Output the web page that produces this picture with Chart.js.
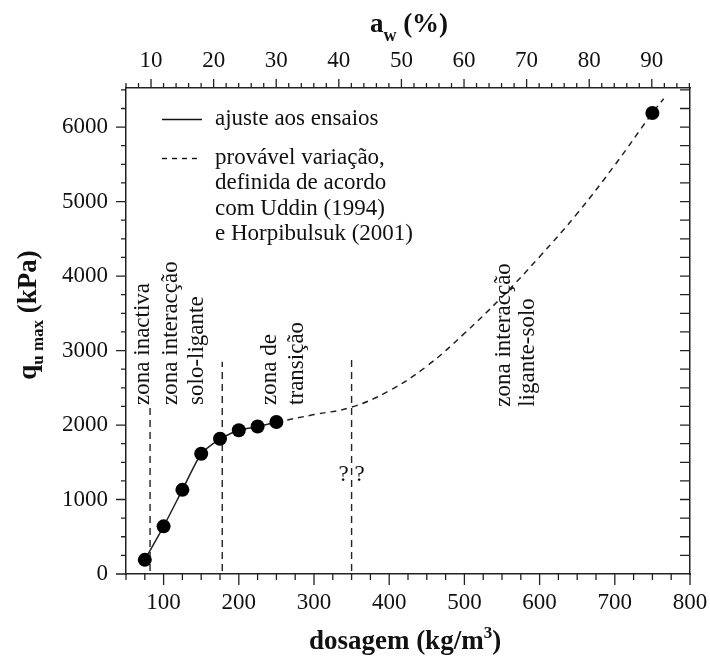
<!DOCTYPE html>
<html>
<head>
<meta charset="utf-8">
<title>qu max vs dosagem</title>
<script src="https://cdn.jsdelivr.net/npm/chart.js@4.4.0/dist/chart.umd.min.js"></script>
<style>
    html, body { margin: 0; padding: 0; background: #fff; }
    #wrap { width: 710px; height: 656px; }
</style>
</head>
<body>
<div id="wrap"><canvas id="quChart" width="710" height="656"></canvas></div>
<script>
// Ensaios: dosagem de ligante (kg/m3) e resistência máxima qu max (kPa)
const testDosage = [75, 100, 125, 150, 175, 200, 225, 250];
const testQu = [190, 640, 1130, 1615, 1815, 1930, 1980, 2040];

// Ponto isolado a dosagem elevada
const highDosage = [750];
const highQu = [6190];

// Provável variação (Uddin 1994, Horpibulsuk 2001)
const trendDosage = [250, 300, 350, 400, 450, 500, 550, 600, 650, 700, 750, 765];
const trendQu = [2040, 2140, 2240, 2460, 2790, 3230, 3720, 4260, 4840, 5490, 6190, 6380];

// Limites entre zonas (linhas verticais a tracejado)
const limitDosage = [82, 178, 350];
const limitTopQu = [2270, 2850, 2880];
const limitBaseQu = 40;

// Eixos
const dosageTicks = [100, 200, 300, 400, 500, 600, 700, 800];
const awTicks = [10, 20, 30, 40, 50, 60, 70, 80, 90];
const quTicks = [0, 1000, 2000, 3000, 4000, 5000, 6000];

const SERIF = "'Liberation Serif', 'Times New Roman', serif";
const INK = '#111';
const AXIS = '#222';

const toXY = (xs, ys) => xs.map((v, i) => ({ x: v, y: ys[i] }));

// Zone labels, written bottom-to-top
const zoneNotes = [
    { text: 'zona inactiva', d: 80, q: 2270 },
    { text: 'zona interacção', d: 118, q: 2270 },
    { text: 'solo-ligante', d: 153, q: 2270 },
    { text: 'zona de', d: 250, q: 2270 },
    { text: 'transição', d: 285, q: 2270 },
    { text: 'zona interacção', d: 560, q: 2245 },
    { text: 'ligante-solo', d: 592, q: 2245 }
];

// Draw a run of text pieces (for sub/superscripts) centred on x
function drawRich(ctx, parts, cx, baseY) {
    let total = 0;
    parts.forEach(p => {
        ctx.font = `bold ${p.size}px ${SERIF}`;
        p.w = ctx.measureText(p.text).width;
        total += p.w;
    });
    let x = cx - total / 2;
    parts.forEach(p => {
        ctx.font = `bold ${p.size}px ${SERIF}`;
        ctx.fillText(p.text, x, baseY + (p.dy || 0));
        x += p.w;
    });
}

// keep the frame fixed: no extra side padding for edge labels
function fixHeight(h) {
    return s => {
        s.height = h;
        s.paddingLeft = 0;
        s.paddingRight = 0;
    };
}

// Minor/major tick marks around the frame
const frameTicks = {
    id: 'frameTicks',
    afterDraw(chart) {
        const ctx = chart.ctx;
        const { x, xTop, y } = chart.scales;
        const area = chart.chartArea;
        ctx.save();
        ctx.strokeStyle = AXIS;
        ctx.lineWidth = 1.3;
        ctx.beginPath();
        for (let v = 50; v <= 800; v += 25) {
            const px = x.getPixelForValue(v);
            const len = v % 100 === 0 ? 11 : 6;
            ctx.moveTo(px, area.bottom);
            ctx.lineTo(px, area.bottom + len);
        }
        for (let v = 6; v <= 96; v += 2) {
            const px = xTop.getPixelForValue(v);
            const len = v % 10 === 0 ? 9 : 5;
            ctx.moveTo(px, area.top);
            ctx.lineTo(px, area.top - len);
        }
        for (let v = 0; v <= 6500; v += 250) {
            const py = y.getPixelForValue(v);
            const len = v % 1000 === 0 ? 10 : 5;
            ctx.moveTo(area.left, py);
            ctx.lineTo(area.left - len, py);
            if (v > 0) {
                ctx.moveTo(area.right, py);
                ctx.lineTo(area.right - 10, py);
            }
        }
        ctx.stroke();
        ctx.restore();
    }
};

// Axis titles, legend and zone notes
const annotations = {
    id: 'annotations',
    afterDraw(chart) {
        const ctx = chart.ctx;
        const { x, y } = chart.scales;
        ctx.save();
        ctx.fillStyle = INK;
        ctx.textAlign = 'left';
        ctx.textBaseline = 'alphabetic';

        // axis titles
        drawRich(ctx, [
            { text: 'dosagem (kg/m', size: 27 },
            { text: '3', size: 17, dy: -11 },
            { text: ')', size: 27 }
        ], 405, 649);

        drawRich(ctx, [
            { text: 'a', size: 27 },
            { text: 'w', size: 18, dy: 9 },
            { text: ' (%)', size: 27 }
        ], 409, 32);

        ctx.save();
        ctx.translate(36, 315);
        ctx.rotate(-Math.PI / 2);
        drawRich(ctx, [
            { text: 'q', size: 27 },
            { text: 'u max', size: 17, dy: 7 },
            { text: ' (kPa)', size: 27 }
        ], 0, 0);
        ctx.restore();

        // legend
        ctx.strokeStyle = '#111';
        ctx.lineWidth = 1.4;
        ctx.beginPath();
        ctx.moveTo(162, 119.5);
        ctx.lineTo(202, 119.5);
        ctx.stroke();
        ctx.setLineDash([5, 5]);
        ctx.beginPath();
        ctx.moveTo(162, 158.5);
        ctx.lineTo(202, 158.5);
        ctx.stroke();
        ctx.setLineDash([]);

        ctx.font = `23px ${SERIF}`;
        const legendLines = ['ajuste aos ensaios', 'provável variação,', 'definida de acordo',
            'com Uddin (1994)', 'e Horpibulsuk (2001)'];
        const legendBase = [125, 163.5, 189, 214.5, 240];
        legendLines.forEach((t, i) => ctx.fillText(t, 215, legendBase[i]));

        // zone notes
        zoneNotes.forEach(n => {
            ctx.save();
            ctx.translate(x.getPixelForValue(n.d), y.getPixelForValue(n.q));
            ctx.rotate(-Math.PI / 2);
            ctx.fillText(n.text, 0, 0);
            ctx.restore();
        });

        ctx.textAlign = 'center';
        ctx.textBaseline = 'middle';
        ctx.fillText('? ?', x.getPixelForValue(350), y.getPixelForValue(1333));
        ctx.restore();
    }
};

const tickFont = { family: SERIF, size: 23 };
const plainLabel = v => String(v);

const limitSets = limitDosage.map((d, i) => ({
    data: [{ x: d, y: limitBaseQu }, { x: d, y: limitTopQu[i] }],
    showLine: true,
    borderColor: '#222',
    borderWidth: 1.4,
    borderDash: [7, 5],
    pointRadius: 0,
    order: 4
}));

new Chart(document.getElementById('quChart'), {
    type: 'scatter',
    data: {
        datasets: [
            {
                label: 'ensaios',
                data: toXY(testDosage, testQu).concat(toXY(highDosage, highQu)),
                backgroundColor: '#000',
                borderWidth: 0,
                pointRadius: 7,
                order: 1
            },
            {
                label: 'ajuste aos ensaios',
                data: toXY(testDosage, testQu),
                showLine: true,
                borderColor: '#222',
                borderWidth: 1.5,
                pointRadius: 0,
                tension: 0.2,
                order: 2
            },
            {
                label: 'provável variação',
                data: toXY(trendDosage, trendQu),
                showLine: true,
                borderColor: '#222',
                borderWidth: 1.5,
                borderDash: [6, 5],
                pointRadius: 0,
                tension: 0.4,
                order: 3
            },
            ...limitSets
        ]
    },
    options: {
        responsive: false,
        animation: false,
        layout: { padding: 0 },
        plugins: {
            legend: { display: false },
            tooltip: { enabled: false }
        },
        scales: {
            x: {
                type: 'linear',
                position: 'bottom',
                min: 50,
                max: 800,
                afterFit: fixHeight(82),
                afterBuildTicks: s => { s.ticks = dosageTicks.map(v => ({ value: v })); },
                grid: { display: true, drawOnChartArea: false, drawTicks: false },
                border: { display: true, color: AXIS, width: 1.5 },
                ticks: { font: tickFont, color: INK, padding: 15, maxRotation: 0, autoSkip: false, callback: plainLabel }
            },
            xTop: {
                type: 'linear',
                position: 'top',
                min: 6.0,
                max: 96.1,
                afterFit: fixHeight(88),
                afterBuildTicks: s => { s.ticks = awTicks.map(v => ({ value: v })); },
                grid: { display: true, drawOnChartArea: false, drawTicks: false },
                border: { display: true, color: AXIS, width: 1.5 },
                ticks: { font: tickFont, color: INK, padding: 13, maxRotation: 0, autoSkip: false, callback: plainLabel }
            },
            y: {
                type: 'linear',
                position: 'left',
                min: 0,
                max: 6525,
                afterFit: s => { s.width = 126; },
                afterBuildTicks: s => { s.ticks = quTicks.map(v => ({ value: v })); },
                grid: { display: true, drawOnChartArea: false, drawTicks: false },
                border: { display: true, color: AXIS, width: 1.5 },
                ticks: { font: tickFont, color: INK, padding: 18, autoSkip: false, callback: plainLabel }
            },
            yRight: {
                type: 'linear',
                position: 'right',
                min: 0,
                max: 6525,
                afterFit: s => { s.width = 20; },
                grid: { display: true, drawOnChartArea: false, drawTicks: false },
                border: { display: true, color: AXIS, width: 1.5 },
                ticks: { display: false }
            }
        }
    },
    plugins: [frameTicks, annotations]
});
</script>
</body>
</html>
